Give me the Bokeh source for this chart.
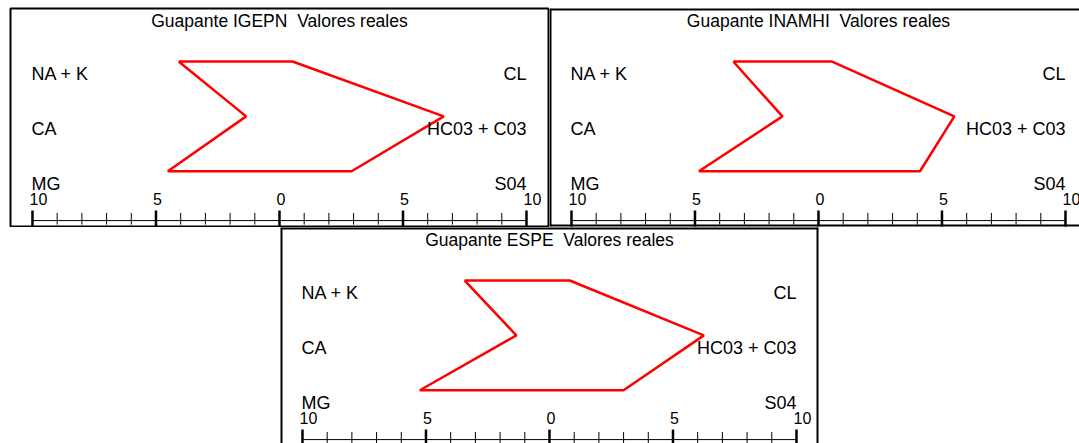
from bokeh.plotting import figure
from bokeh.layouts import column, row
from bokeh.models import Spacer, Range1d, Span
from bokeh.core.properties import value
from bokeh.embed import file_html
from bokeh.resources import INLINE

# ---- data ----
titles = ["Guapante IGEPN \u00a0Valores reales",
          "Guapante INAMHI \u00a0Valores reales",
          "Guapante ESPE \u00a0Valores reales"]
cation_names = ["NA + K", "CA", "MG"]
anion_names = ["CL", "HC03 + C03", "S04"]
row_levels = [3, 2, 1]

cations_igepn = [4.08, 1.35, 4.52]
anions_igepn = [0.53, 6.65, 2.92]
cations_inamhi = [3.45, 1.46, 4.84]
anions_inamhi = [0.53, 5.50, 4.11]
cations_espe = [3.44, 1.34, 5.25]
anions_espe = [0.82, 6.25, 3.00]

tick_values = list(range(-10, 11))
tick_label_values = [-10, -5, 0, 5, 10]
tick_labels = ["10", "5", "0", "5", "10"]

FONT = value("Liberation Sans")
PX_X = 24.7   # pixels per unit horizontally
PX_Y = 54.9   # pixels per row vertically
X0 = -10.89
YTOP = 3.965


def panel(title, cat, an, width, height, mb=(1, 1, 1, 1), sides=None):
    mt, mr, mbot, ml = mb
    fw = width - ml - mr
    fh = height - mt - mbot
    p = figure(width=width, height=height,
               x_range=Range1d(X0, X0 + fw / PX_X),
               y_range=Range1d(YTOP - fh / PX_Y, YTOP),
               x_axis_type=None, y_axis_type=None,
               toolbar_location=None, output_backend="svg",
               min_border_left=ml, min_border_right=mr,
               min_border_top=mt, min_border_bottom=mbot,
               background_fill_color="white", border_fill_color="white")
    if sides is None:
        p.outline_line_color = "black"
        p.outline_line_width = 2
    else:
        p.outline_line_color = None
        xr, yr = p.x_range, p.y_range
        kw = dict(line_color="black", line_width=4)
        if "l" in sides:
            p.add_layout(Span(location=xr.start, dimension="height", **kw))
        if "r" in sides:
            p.add_layout(Span(location=xr.end, dimension="height", **kw))
        if "t" in sides:
            p.add_layout(Span(location=yr.end, dimension="width", **kw))
        if "b" in sides:
            p.add_layout(Span(location=yr.start, dimension="width", **kw))

    # Stiff polygon
    xs = [-cat[0], -cat[1], -cat[2], an[2], an[1], an[0], -cat[0]]
    ys = [row_levels[0], row_levels[1], row_levels[2],
          row_levels[2], row_levels[1], row_levels[0], row_levels[0]]
    p.line(xs, ys, line_color="#ff0000", line_width=2.5)

    # ion labels
    p.text(x=[-10] * 3, y=row_levels, text=cation_names, text_align="left",
           text_baseline="middle", y_offset=13, x_offset=-1,
           text_font=FONT, text_font_size="18px", text_color="black")
    p.text(x=[10] * 3, y=row_levels, text=anion_names, text_align="right",
           text_baseline="middle", y_offset=13,
           text_font=FONT, text_font_size="18px", text_color="black")

    # title
    p.text(x=[0], y=[3.734], text=[title], text_align="center",
           text_baseline="middle", text_font=FONT, text_font_size="17.5px",
           text_color="black")

    # scale bar
    y_axis = 0.102
    p.segment(x0=[-10], y0=[y_axis], x1=[10], y1=[y_axis],
              line_color="black", line_width=1)
    major = [t for t in tick_values if t % 5 == 0]
    minor = [t for t in tick_values if t % 5 != 0]
    p.segment(x0=major, y0=[0.284] * len(major), x1=major, y1=[-0.2] * len(major),
              line_color="black", line_width=2.5)
    p.segment(x0=minor, y0=[0.242] * len(minor), x1=minor, y1=[0.029] * len(minor),
              line_color="black", line_width=1)
    p.text(x=tick_label_values, y=[0.503] * len(tick_label_values), text=tick_labels,
           text_align="left", text_baseline="middle", x_offset=-3,
           text_font=FONT, text_font_size="16px", text_color="black")
    return p


p1 = panel(titles[0], cations_igepn, anions_igepn, 540, 220)
p2 = panel(titles[1], cations_inamhi, anions_inamhi, 530, 220,
           mb=(1, 0, 1, 0), sides=("l", "t", "b"))
p3 = panel(titles[2], cations_espe, anions_espe, 540, 216,
           mb=(0, 1, 0, 1), sides=("l", "r", "t"))

layout = column(
    Spacer(width=1079, height=7),
    row(Spacer(width=9, height=220), p1, p2),
    row(Spacer(width=279, height=216), p3),
)

open("out.html", "w").write(file_html(layout, INLINE))
